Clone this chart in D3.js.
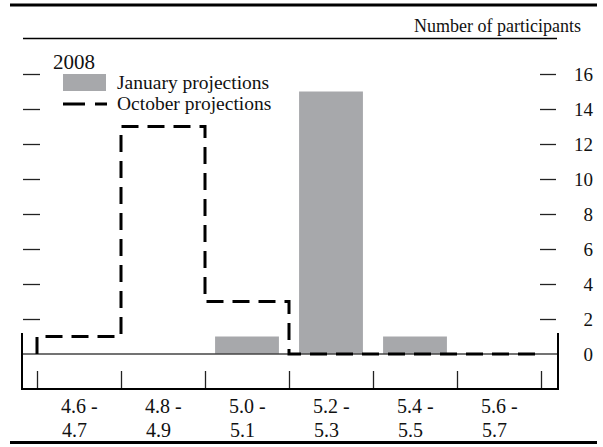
<!DOCTYPE html>
<html>
<head>
<meta charset="utf-8">
<script src="https://cdn.jsdelivr.net/npm/d3@7"></script>
<style>
  body { margin: 0; background: #fff; }
  svg text { font-family: "Liberation Serif", "Times New Roman", serif; }
</style>
</head>
<body>
<div id="chart"></div>
<script>
// data
var categories = ["4.6-4.7", "4.8-4.9", "5.0-5.1", "5.2-5.3", "5.4-5.5", "5.6-5.7"];
var labelTop = ["4.6 -", "4.8 -", "5.0 -", "5.2 -", "5.4 -", "5.6 -"];
var labelBottom = ["4.7", "4.9", "5.1", "5.3", "5.5", "5.7"];
var january = [0, 0, 1, 15, 1, 0];
var october = [1, 13, 3, 0, 0, 0];
var yTicks = [0, 2, 4, 6, 8, 10, 12, 14, 16];

var width = 603, height = 447;
var svg = d3.select("#chart").append("svg")
  .attr("width", width)
  .attr("height", height);

// scales
var x = d3.scaleBand().domain(categories).range([37, 541]);
var xEdge = d3.scaleLinear().domain([0, categories.length]).range([37, 541]);
var y = d3.scaleLinear().domain([0, 16]).range([354, 74]);

// top rule, header line, bottom rule
svg.append("line").attr("x1", 10).attr("x2", 597).attr("y1", 5).attr("y2", 5)
  .attr("stroke", "#000").attr("stroke-width", 3);
svg.append("line").attr("x1", 23).attr("x2", 557).attr("y1", 38.5).attr("y2", 38.5)
  .attr("stroke", "#000").attr("stroke-width", 1.5);
svg.append("line").attr("x1", 10).attr("x2", 597).attr("y1", 442.5).attr("y2", 442.5)
  .attr("stroke", "#000").attr("stroke-width", 3);

svg.append("text").attr("x", 581).attr("y", 32)
  .attr("text-anchor", "end").attr("font-size", 18).attr("fill", "#111")
  .text("Number of participants");

// left ticks (no labels)
var leftAxis = d3.axisRight(y).tickValues(yTicks.slice(1)).tickSize(17).tickFormat("");
var gl = svg.append("g").attr("transform", "translate(23,0)").call(leftAxis);
gl.select(".domain").remove();
gl.selectAll(".tick line").attr("stroke", "#222").attr("stroke-width", 1.3);

// right ticks with labels
var rightAxis = d3.axisRight(y).tickValues(yTicks).tickSize(16).tickFormat(d3.format("d"));
var gr = svg.append("g").attr("transform", "translate(540,0)").call(rightAxis);
gr.select(".domain").remove();
gr.selectAll(".tick line").attr("stroke", "#222").attr("stroke-width", 1.3)
  .filter(function(d) { return d === 0; }).remove();
gr.selectAll(".tick text")
  .attr("x", 53).attr("dy", "0.35em").attr("text-anchor", "end")
  .attr("font-size", 19).attr("fill", "#111");

// bars
var bw = x.bandwidth() * 0.76;
svg.selectAll("rect.jan")
  .data(january)
  .enter()
  .append("rect")
    .attr("class", "jan")
    .attr("x", function(d, i) { return x(categories[i]) + (x.bandwidth() - bw) / 2; })
    .attr("y", function(d) { return y(d); })
    .attr("width", bw)
    .attr("height", function(d) { return y(0) - y(d); })
    .attr("fill", "#a7a8ab");

// frame below zero line
var frame = svg.append("g").attr("stroke", "#000").attr("fill", "none");
frame.append("line").attr("x1", 22).attr("x2", 558).attr("y1", y(0)).attr("y2", y(0))
  .attr("stroke", "#444").attr("stroke-width", 1.5);
frame.append("line").attr("x1", 22).attr("x2", 22).attr("y1", 333).attr("y2", 389)
  .attr("stroke-width", 2);
frame.append("line").attr("x1", 558).attr("x2", 558).attr("y1", 333).attr("y2", 389)
  .attr("stroke-width", 2);

// bottom axis: ticks at category boundaries
var bottomAxis = d3.axisBottom(xEdge).ticks(categories.length).tickSize(-18).tickFormat("");
var gb = svg.append("g").attr("transform", "translate(0,389)").call(bottomAxis);
gb.select(".domain").remove();
gb.selectAll(".tick line").attr("stroke", "#222").attr("stroke-width", 1.3);
svg.append("line").attr("x1", 21).attr("x2", 559).attr("y1", 389).attr("y2", 389)
  .attr("stroke", "#000").attr("stroke-width", 2);

// category labels
var lab = svg.selectAll("g.lab")
  .data(categories)
  .enter()
  .append("g")
    .attr("class", "lab")
    .attr("transform", function(d) { return "translate(" + (x(d) + x.bandwidth() / 2 - 18) + ",0)"; });
lab.append("text").attr("y", 413).attr("font-size", 20).attr("fill", "#111")
  .text(function(d, i) { return labelTop[i]; });
lab.append("text").attr("x", 1).attr("y", 437).attr("font-size", 20).attr("fill", "#111")
  .text(function(d, i) { return labelBottom[i]; });

// october step line
var pts = [[x(categories[0]), y(0)]];
october.forEach(function(v, i) {
  pts.push([x(categories[i]), y(v)]);
  pts.push([x(categories[i]) + x.bandwidth(), y(v)]);
});
svg.append("path")
  .attr("d", d3.line()(pts))
  .attr("fill", "none")
  .attr("stroke", "#000")
  .attr("stroke-width", 3)
  .attr("stroke-dasharray", "17,9");

// legend
svg.append("text").attr("x", 53).attr("y", 69).attr("font-size", 21).attr("fill", "#111").text("2008");
svg.append("rect").attr("x", 63).attr("y", 74).attr("width", 43).attr("height", 17).attr("fill", "#a7a8ab");
svg.append("text").attr("x", 117).attr("y", 89).attr("font-size", 19.5).attr("fill", "#111").text("January projections");
svg.append("line").attr("x1", 63).attr("x2", 107).attr("y1", 104).attr("y2", 104)
  .attr("stroke", "#000").attr("stroke-width", 3).attr("stroke-dasharray", "22,10");
svg.append("text").attr("x", 117).attr("y", 110).attr("font-size", 19.5).attr("fill", "#111").text("October projections");
</script>
</body>
</html>
